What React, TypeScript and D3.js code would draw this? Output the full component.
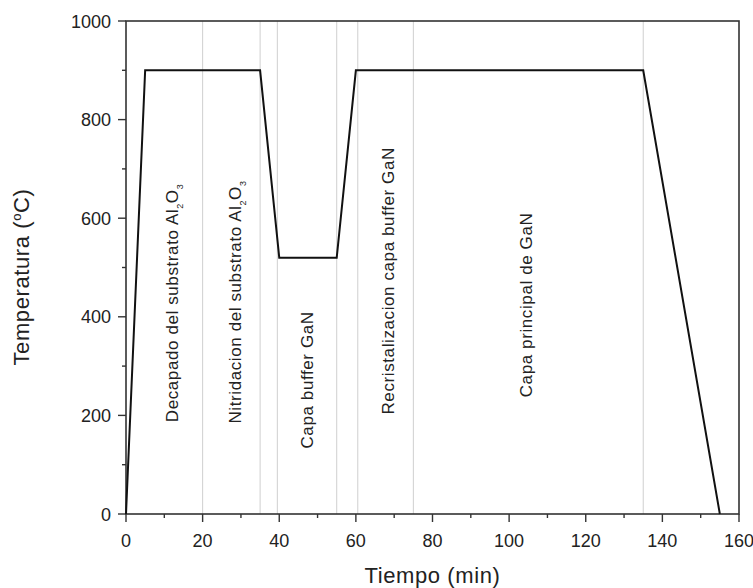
import { useRef, useEffect } from "react";
import { select, scaleLinear, line, range } from "d3";

// temperature profile (min, °C)
const times = [0, 5, 35, 40, 55, 60, 135, 155];
const temps = [0, 900, 900, 520, 520, 900, 900, 0];

// light stage separators
const stageLines = [20, 35, 39.5, 55, 60.5, 75, 135];

// stage labels: text, sub-scripted parts, position (min, °C of the text center)
const stageNames = [
  ["Decapado del substrato Al", "2", "O", "3"],
  ["Nitridacion del substrato Al", "2", "O", "3"],
  ["Capa buffer GaN"],
  ["Recristalizacion capa buffer GaN"],
  ["Capa principal de GaN"],
];
const stageX = [12, 28.5, 47.2, 68.4, 104.5];
const stageY = [428, 430, 272, 473, 424];

const xTicks = [0, 20, 40, 60, 80, 100, 120, 140, 160];
const yTicks = [0, 200, 400, 600, 800, 1000];

const W = 753;
const H = 588;
const margin = { top: 21, right: 14, bottom: 74, left: 126 };

const App = () => {
  const svgRef = useRef(null);

  useEffect(() => {
    const innerW = W - margin.left - margin.right;
    const innerH = H - margin.top - margin.bottom;

    const x = scaleLinear().domain([0, 160]).range([0, innerW]);
    const y = scaleLinear().domain([0, 1000]).range([innerH, 0]);

    const svgEl = select(svgRef.current);
    svgEl.selectAll("*").remove();

    const svg = svgEl
      .append("g")
      .attr("transform", `translate(${margin.left}, ${margin.top})`);

    const font = "'Liberation Sans', Arial, sans-serif";
    const axisColor = "#333";

    // stage separators
    svg
      .selectAll(".sep")
      .data(stageLines)
      .join("line")
      .attr("x1", (d) => x(d))
      .attr("x2", (d) => x(d))
      .attr("y1", 0)
      .attr("y2", innerH)
      .attr("stroke", "#cfcfcf")
      .attr("stroke-width", 1);

    // frame
    svg
      .append("rect")
      .attr("x", 0)
      .attr("y", 0)
      .attr("width", innerW)
      .attr("height", innerH)
      .attr("fill", "none")
      .attr("stroke", axisColor)
      .attr("stroke-width", 1.6);

    // x ticks (major + minor, outward)
    svg
      .selectAll(".xminor")
      .data(range(10, 160, 20))
      .join("line")
      .attr("x1", (d) => x(d))
      .attr("x2", (d) => x(d))
      .attr("y1", innerH)
      .attr("y2", innerH + 4)
      .attr("stroke", axisColor)
      .attr("stroke-width", 1.4);
    svg
      .selectAll(".xmajor")
      .data(xTicks)
      .join("line")
      .attr("x1", (d) => x(d))
      .attr("x2", (d) => x(d))
      .attr("y1", innerH)
      .attr("y2", innerH + 8)
      .attr("stroke", axisColor)
      .attr("stroke-width", 1.4);
    svg
      .selectAll(".xlab")
      .data(xTicks)
      .join("text")
      .attr("x", (d) => x(d))
      .attr("y", innerH + 33)
      .attr("text-anchor", "middle")
      .attr("font-family", font)
      .attr("font-size", 18)
      .attr("fill", "#222")
      .text((d) => d);

    // y ticks
    svg
      .selectAll(".yminor")
      .data(range(100, 1000, 200))
      .join("line")
      .attr("x1", 0)
      .attr("x2", -4)
      .attr("y1", (d) => y(d))
      .attr("y2", (d) => y(d))
      .attr("stroke", axisColor)
      .attr("stroke-width", 1.4);
    svg
      .selectAll(".ymajor")
      .data(yTicks)
      .join("line")
      .attr("x1", 0)
      .attr("x2", -8)
      .attr("y1", (d) => y(d))
      .attr("y2", (d) => y(d))
      .attr("stroke", axisColor)
      .attr("stroke-width", 1.4);
    svg
      .selectAll(".ylab")
      .data(yTicks)
      .join("text")
      .attr("x", -15)
      .attr("y", (d) => y(d) + 6.5)
      .attr("text-anchor", "end")
      .attr("font-family", font)
      .attr("font-size", 18)
      .attr("fill", "#222")
      .text((d) => d);

    // temperature profile
    const pts = times.map((t, i) => [t, temps[i]]);
    svg
      .append("path")
      .datum(pts)
      .attr("fill", "none")
      .attr("stroke", "#111")
      .attr("stroke-width", 2)
      .attr("stroke-linejoin", "miter")
      .attr(
        "d",
        line()
          .x((d) => x(d[0]))
          .y((d) => y(d[1]))
      );

    // stage labels
    stageNames.forEach((parts, i) => {
      const t = svg
        .append("text")
        .attr(
          "transform",
          `translate(${x(stageX[i]) + 6}, ${y(stageY[i])}) rotate(-90)`
        )
        .attr("text-anchor", "middle")
        .attr("font-family", font)
        .attr("font-size", 17)
        .attr("letter-spacing", 0.6)
        .attr("fill", "#222");
      parts.forEach((p, j) => {
        const sub = j % 2 === 1;
        t.append("tspan")
          .attr("font-size", sub ? 9 : 17)
          .attr("dy", sub ? 5 : j > 0 ? -5 : 0)
          .text(p);
      });
    });

    // axis titles
    svg
      .append("text")
      .attr("x", innerW / 2)
      .attr("y", innerH + 69)
      .attr("text-anchor", "middle")
      .attr("font-family", font)
      .attr("font-size", 22)
      .attr("letter-spacing", 0.6)
      .attr("fill", "#222")
      .text("Tiempo (min)");

    const yt = svg
      .append("text")
      .attr("transform", `translate(${-97}, ${256}) rotate(-90)`)
      .attr("text-anchor", "middle")
      .attr("font-family", font)
      .attr("font-size", 22)
      .attr("letter-spacing", 0.6)
      .attr("fill", "#222");
    yt.append("tspan").text("Temperatura (");
    yt.append("tspan").attr("font-size", 13).attr("dy", -8).text("o");
    yt.append("tspan").attr("dy", 8).text("C)");
  }, []);

  return (
    <svg
      ref={svgRef}
      width={W}
      height={H}
      style={{ position: "absolute", left: 0, top: 0, background: "#fff" }}
    ></svg>
  );
};

export default App;
